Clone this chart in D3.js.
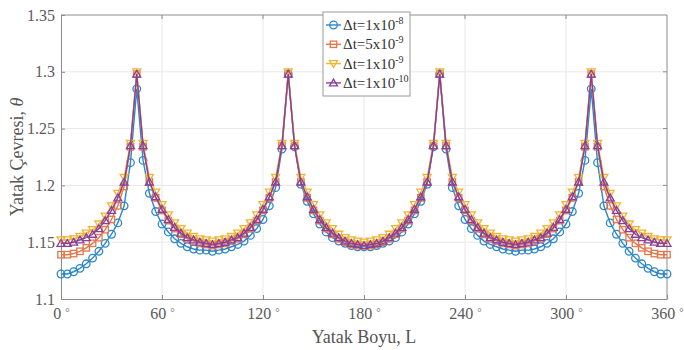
<!DOCTYPE html>
<html>
<head>
<meta charset="utf-8">
<script src="https://cdn.jsdelivr.net/npm/d3@7"></script>
<style>
  body { margin: 0; background: #fff; }
  svg { display: block; }
</style>
</head>
<body>
<svg id="chart" width="684" height="350" font-family="'Liberation Serif', 'DejaVu Serif', serif"></svg>
<script>
// angle along the bearing, degrees, 3.75 deg step
var angles = d3.range(97).map(function (i) { return i * 3.75; });

var xTicks = [0, 60, 120, 180, 240, 300, 360];
var yTicks = [1.1, 1.15, 1.2, 1.25, 1.3, 1.35];

var seriesNames = ["1x10^-8", "5x10^-9", "1x10^-9", "1x10^-10"];

var dt1e8 = [
  1.122,1.122,1.124,1.127,1.131,1.136,1.142,1.149,1.157,1.167,1.182,1.220,1.285,
  1.222,1.193,1.177,1.166,1.159,1.153,1.149,1.146,1.144,1.143,1.143,1.142,
  1.143,1.144,1.146,1.148,1.151,1.156,1.162,1.170,1.182,1.198,1.232,1.298,
  1.234,1.201,1.186,1.175,1.166,1.159,1.154,1.151,1.149,1.147,1.146,1.146,
  1.146,1.147,1.149,1.151,1.154,1.159,1.166,1.175,1.186,1.201,1.234,1.298,
  1.232,1.198,1.182,1.170,1.162,1.156,1.151,1.148,1.146,1.144,1.143,1.142,
  1.143,1.143,1.144,1.146,1.149,1.153,1.159,1.166,1.177,1.193,1.222,1.285,
  1.220,1.182,1.167,1.157,1.149,1.142,1.136,1.131,1.127,1.124,1.122,1.122
];
var dt5e9 = [
  1.139,1.139,1.140,1.142,1.145,1.149,1.154,1.161,1.170,1.182,1.199,1.234,1.298,
  1.234,1.203,1.189,1.178,1.169,1.162,1.157,1.153,1.151,1.149,1.148,1.147,
  1.148,1.149,1.151,1.153,1.157,1.162,1.169,1.178,1.189,1.203,1.235,1.298,
  1.235,1.203,1.189,1.178,1.169,1.162,1.157,1.153,1.150,1.148,1.147,1.147,
  1.147,1.148,1.150,1.153,1.157,1.162,1.169,1.178,1.189,1.203,1.235,1.298,
  1.235,1.203,1.189,1.178,1.169,1.162,1.157,1.153,1.151,1.149,1.148,1.147,
  1.148,1.149,1.151,1.153,1.157,1.162,1.169,1.178,1.189,1.203,1.234,1.298,
  1.234,1.199,1.182,1.170,1.161,1.154,1.149,1.145,1.142,1.140,1.139,1.139
];
var dt1e9 = [
  1.152,1.152,1.153,1.155,1.158,1.161,1.166,1.173,1.182,1.193,1.207,1.237,1.300,
  1.237,1.207,1.194,1.183,1.174,1.167,1.162,1.158,1.155,1.153,1.152,1.151,
  1.152,1.153,1.155,1.158,1.162,1.167,1.174,1.183,1.194,1.207,1.237,1.300,
  1.237,1.207,1.194,1.183,1.174,1.167,1.162,1.157,1.154,1.152,1.151,1.150,
  1.151,1.152,1.154,1.157,1.162,1.167,1.174,1.183,1.194,1.207,1.237,1.300,
  1.237,1.207,1.194,1.183,1.174,1.167,1.162,1.158,1.155,1.153,1.152,1.151,
  1.152,1.153,1.155,1.158,1.162,1.167,1.174,1.183,1.194,1.207,1.237,1.300,
  1.237,1.207,1.193,1.182,1.173,1.166,1.161,1.158,1.155,1.153,1.152,1.152
];
var dt1e10 = [
  1.149,1.149,1.150,1.152,1.154,1.157,1.162,1.169,1.178,1.189,1.203,1.235,1.298,
  1.235,1.203,1.190,1.179,1.170,1.163,1.158,1.154,1.152,1.150,1.149,1.148,
  1.149,1.150,1.152,1.154,1.158,1.163,1.170,1.179,1.190,1.203,1.235,1.298,
  1.235,1.203,1.190,1.179,1.170,1.163,1.158,1.154,1.151,1.149,1.148,1.147,
  1.148,1.149,1.151,1.154,1.158,1.163,1.170,1.179,1.190,1.203,1.235,1.298,
  1.235,1.203,1.190,1.179,1.170,1.163,1.158,1.154,1.152,1.150,1.149,1.148,
  1.149,1.150,1.152,1.154,1.158,1.163,1.170,1.179,1.190,1.203,1.235,1.298,
  1.235,1.203,1.189,1.178,1.169,1.162,1.157,1.154,1.152,1.150,1.149,1.149
];

var series = [
  { name: seriesNames[0], values: dt1e8, color: "#2b87c9", marker: "circle" },
  { name: seriesNames[1], values: dt5e9, color: "#e5774a", marker: "square" },
  { name: seriesNames[2], values: dt1e9, color: "#efb434", marker: "tridown" },
  { name: seriesNames[3], values: dt1e10, color: "#8a3f9c", marker: "triup" }
];

var serif = "'Liberation Serif', 'DejaVu Serif', serif";
var svg = d3.select("#chart");
var m = { left: 61, top: 15, right: 17, bottom: 51 };
var w = 684 - m.left - m.right, h = 350 - m.top - m.bottom;

var x = d3.scaleLinear().domain([0, 360]).range([0, w]);
var y = d3.scaleLinear().domain([1.1, 1.35]).range([h, 0]);

var g = svg.append("g").attr("transform", "translate(" + m.left + "," + m.top + ")");

// grid
g.append("g").selectAll("line").data(xTicks.slice(1, -1)).enter().append("line")
  .attr("x1", function (d) { return x(d); }).attr("x2", function (d) { return x(d); })
  .attr("y1", 0).attr("y2", h).attr("stroke", "#e8e8e8").attr("stroke-width", 1);
g.append("g").selectAll("line").data(yTicks.slice(1, -1)).enter().append("line")
  .attr("y1", function (d) { return y(d); }).attr("y2", function (d) { return y(d); })
  .attr("x1", 0).attr("x2", w).attr("stroke", "#e8e8e8").attr("stroke-width", 1);

// axes
var xAxis = g.append("g").attr("transform", "translate(0," + h + ")")
  .call(d3.axisBottom(x).tickValues(xTicks).tickSizeInner(-4).tickSizeOuter(0).tickPadding(9)
    .tickFormat(function (d) { return d; }));
var yAxis = g.append("g")
  .call(d3.axisLeft(y).tickValues(yTicks).tickSizeInner(-4).tickSizeOuter(0).tickPadding(6)
    .tickFormat(function (d) { return d; }));
[xAxis, yAxis].forEach(function (a) {
  a.attr("font-family", serif).attr("font-size", 16);
  a.select(".domain").attr("stroke", "#8c8c8c");
  a.selectAll(".tick line").attr("stroke", "#8c8c8c");
  a.selectAll(".tick text").attr("fill", "#5a5a5a");
});
xAxis.selectAll(".tick text").each(function (d) {
  var t = d3.select(this);
  t.text(d + " ");
  t.append("tspan").attr("dy", "-0.3em").attr("font-size", 11).text("°");
});
// top and right frame
g.append("line").attr("x1", 0).attr("x2", w).attr("y1", 0).attr("y2", 0).attr("stroke", "#8c8c8c");
g.append("line").attr("x1", w).attr("x2", w).attr("y1", 0).attr("y2", h).attr("stroke", "#8c8c8c");
g.append("g").selectAll("line").data(xTicks.slice(1, -1)).enter().append("line")
  .attr("x1", function (d) { return x(d); }).attr("x2", function (d) { return x(d); })
  .attr("y1", 0).attr("y2", 4).attr("stroke", "#8c8c8c");
g.append("g").selectAll("line").data(yTicks.slice(1, -1)).enter().append("line")
  .attr("y1", function (d) { return y(d); }).attr("y2", function (d) { return y(d); })
  .attr("x1", w - 4).attr("x2", w).attr("stroke", "#8c8c8c");

function drawMarker(sel, type, color) {
  if (type === "circle") {
    sel.append("circle").attr("r", 3.8);
  } else if (type === "square") {
    sel.append("rect").attr("x", -3.2).attr("y", -3.2).attr("width", 6.4).attr("height", 6.4);
  } else if (type === "tridown") {
    sel.append("path").attr("d", "M-4,-3L4,-3L0,3.8Z");
  } else {
    sel.append("path").attr("d", "M-4,3L4,3L0,-3.8Z");
  }
  sel.selectAll("*").attr("fill", "none").attr("stroke", color).attr("stroke-width", 1.3);
}

var line = d3.line().x(function (d, i) { return x(angles[i]); }).y(function (d) { return y(d); });

series.forEach(function (s) {
  var sg = g.append("g");
  sg.append("path").datum(s.values).attr("d", line)
    .attr("fill", "none").attr("stroke", s.color).attr("stroke-width", 1.4);
  sg.selectAll("g.mk").data(s.values).enter().append("g").attr("class", "mk")
    .attr("transform", function (d, i) { return "translate(" + x(angles[i]) + "," + y(d) + ")"; })
    .each(function () { drawMarker(d3.select(this), s.marker, s.color); });
});

// axis titles
svg.append("text").attr("x", m.left + w / 2).attr("y", 343).attr("text-anchor", "middle")
  .attr("fill", "#555").attr("font-size", 18).text("Yatak Boyu, L");
var yt = svg.append("text").attr("transform", "translate(23," + (m.top + h / 2) + ") rotate(-90)")
  .attr("text-anchor", "middle").attr("fill", "#555").attr("font-size", 18);
yt.append("tspan").text("Yatak Çevresi, ");
yt.append("tspan").attr("font-style", "italic").text("θ");

// legend
var lg = svg.append("g").attr("transform", "translate(323,12)");
lg.append("rect").attr("width", 87).attr("height", 84).attr("fill", "#fff").attr("stroke", "#9a9a9a");
series.forEach(function (s, i) {
  var row = lg.append("g").attr("transform", "translate(0," + (13 + i * 19.3) + ")");
  row.append("line").attr("x1", 3).attr("x2", 18).attr("stroke", s.color).attr("stroke-width", 1.4);
  drawMarker(row.append("g").attr("transform", "translate(10.5,0)"), s.marker, s.color);
  var parts = s.name.split("^");
  var t = row.append("text").attr("x", 20).attr("y", 5).attr("fill", "#333").attr("font-size", 15);
  t.append("tspan").text("Δt=" + parts[0]);
  t.append("tspan").attr("dy", "-6").attr("font-size", 10).text(parts[1]);
});
</script>
</body>
</html>
